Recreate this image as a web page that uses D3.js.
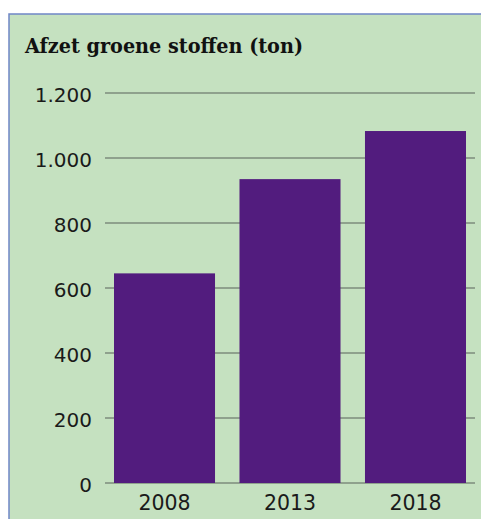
<!DOCTYPE html>
<html><head><meta charset="utf-8">
<script src="https://cdn.jsdelivr.net/npm/d3@7"></script>
<style>html,body{margin:0;padding:0;background:#fff;}svg{display:block;}</style>
</head><body>
<svg id="c" width="481" height="519"></svg>
<script>
const categories = ["2008", "2013", "2018"];
const values = [645, 935, 1083];
const yTicks = [0, 200, 400, 600, 800, 1000, 1200];
const yTickLabels = ["0", "200", "400", "600", "800", "1.000", "1.200"];
const title = "Afzet groene stoffen (ton)";

const svg = d3.select("#c");
// panel
svg.append("rect").attr("x", 9).attr("y", 14).attr("width", 480).attr("height", 520)
  .attr("fill", "#c5e1c0").attr("stroke", "#6f86c6").attr("stroke-width", 1.5);

const y = d3.scaleLinear().domain([0, 1200]).range([483, 93]);
const x = d3.scaleBand().domain(categories).range([114, 466]).paddingInner(0.195).paddingOuter(0);

const g = svg.append("g");
// gridlines
g.selectAll("line.grid").data(yTicks).join("line")
  .attr("x1", 105).attr("x2", 475)
  .attr("y1", d => y(d)).attr("y2", d => y(d))
  .attr("stroke", "#7d8b7c").attr("stroke-width", 1.6);

// bars
g.selectAll("rect.bar").data(values).join("rect")
  .attr("x", (d, i) => x(categories[i]))
  .attr("width", x.bandwidth())
  .attr("y", d => y(d))
  .attr("height", d => y(0) - y(d))
  .attr("fill", "#521c7e");

// y labels
g.selectAll("text.yl").data(yTicks).join("text")
  .attr("x", 92).attr("y", d => y(d))
  .attr("dy", "0.43em")
  .attr("text-anchor", "end")
  .attr("font-family", "'DejaVu Sans', sans-serif").attr("font-size", 20)
  .attr("fill", "#1a1a1a")
  .text((d, i) => yTickLabels[i]);

// x labels
g.selectAll("text.xl").data(categories).join("text")
  .attr("x", d => x(d) + x.bandwidth() / 2).attr("y", 510)
  .attr("text-anchor", "middle")
  .attr("font-family", "'DejaVu Sans', sans-serif").attr("font-size", 20.5)
  .attr("fill", "#1a1a1a")
  .text(d => d);

// title
svg.append("text").attr("x", 25).attr("y", 53)
  .attr("font-family", "'DejaVu Serif', serif").attr("font-weight", "bold").attr("font-size", 20)
  .attr("textLength", 278).attr("lengthAdjust", "spacingAndGlyphs")
  .attr("fill", "#111")
  .text(title);
</script>
</body></html>
